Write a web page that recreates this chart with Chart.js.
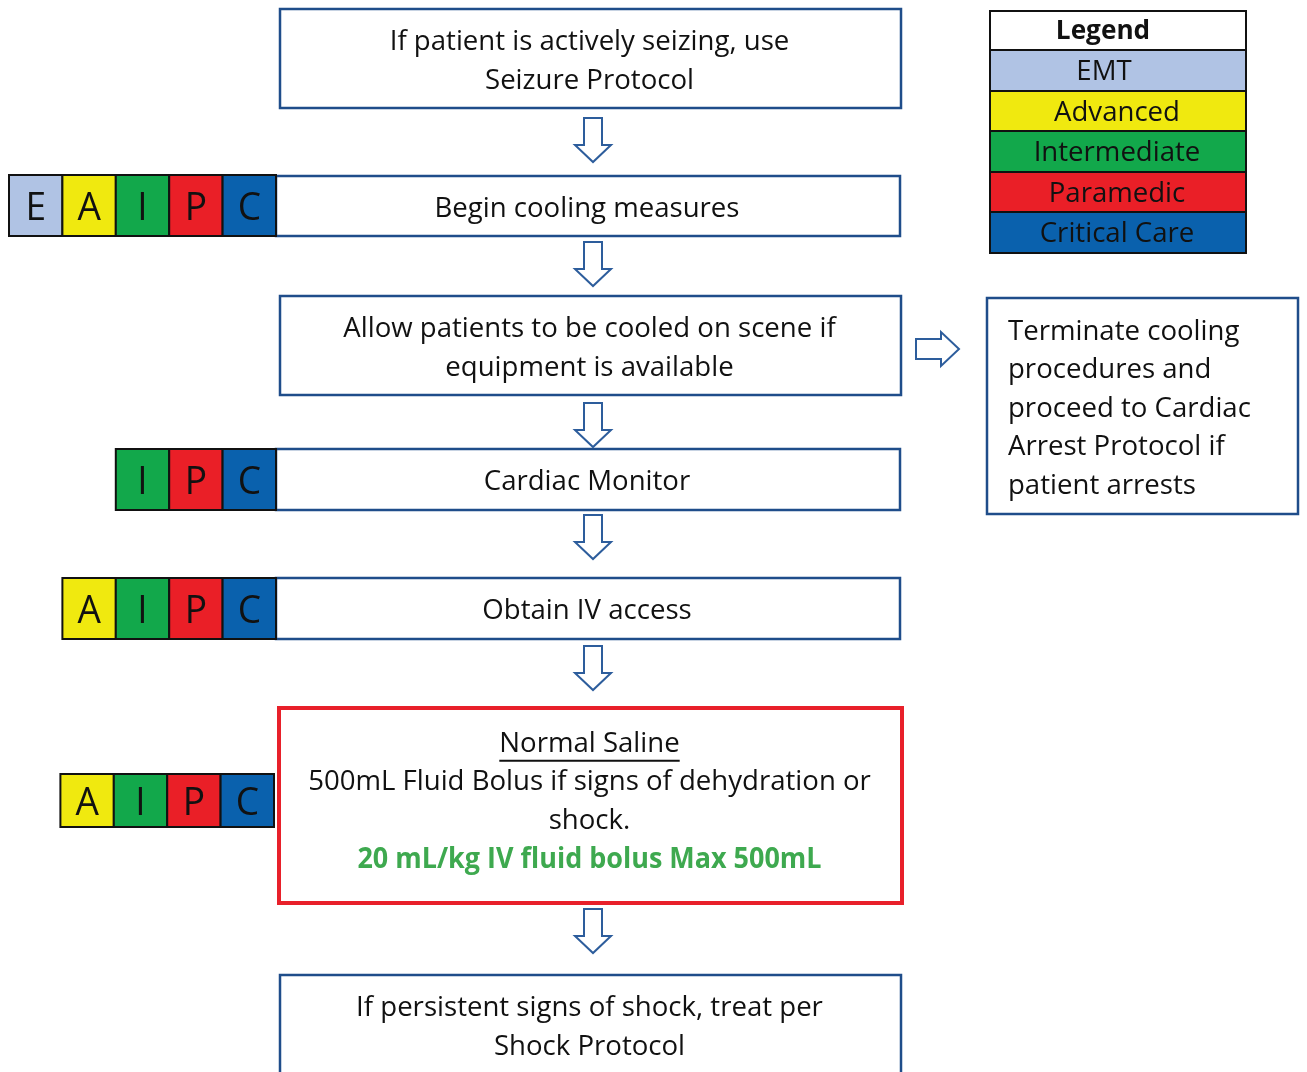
<!DOCTYPE html>
<html>
<head>
<meta charset="utf-8">
<script src="https://cdn.jsdelivr.net/npm/chart.js@4.4.1/dist/chart.umd.min.js"></script>
<style>
  html, body { margin: 0; padding: 0; background: #fff; }
  #wrap { width: 1307px; height: 1072px; position: relative; }
</style>
</head>
<body>
<div id="wrap"><canvas id="flow"></canvas></div>
<script>
// Flowchart content
const stepTexts = [
  ['If patient is actively seizing, use', 'Seizure Protocol'],
  ['Begin cooling measures'],
  ['Allow patients to be cooled on scene if', 'equipment is available'],
  ['Cardiac Monitor'],
  ['Obtain IV access'],
  ['Normal Saline', '500mL Fluid Bolus if signs of dehydration or', 'shock.', '20 mL/kg IV fluid bolus Max 500mL'],
  ['If persistent signs of shock, treat per', 'Shock Protocol']
];
const stepLevels = [[], ['E', 'A', 'I', 'P', 'C'], [], ['I', 'P', 'C'], ['A', 'I', 'P', 'C'], ['A', 'I', 'P', 'C'], []];
const sideNote = ['Terminate cooling', 'procedures and', 'proceed to Cardiac', 'Arrest Protocol if', 'patient arrests'];

const legendTitle = 'Legend';
const legendLabels = ['EMT', 'Advanced', 'Intermediate', 'Paramedic', 'Critical Care'];
const legendCodes = ['E', 'A', 'I', 'P', 'C'];
const legendColors = ['#b0c3e4', '#f0e90f', '#12a84b', '#ea1f27', '#0a61ad'];

// layout in chart units (the canvas is mapped 1:1 by the hidden scales)
const stepTop = [9, 176, 296, 449, 578, 708, 975];
const stepBottom = [108, 236, 395, 510, 639, 903, 1074];
const stepLeft = [280, 276, 280, 276, 276, 279, 280];
const stepRight = [901, 900, 901, 900, 900, 902, 901];
const badgeTop = [0, 175, 0, 449, 578, 774, 0];
const badgeBottom = [0, 236, 0, 510, 639, 827, 0];
const badgeW = 53.4;

const FONT = '"Open Sans", Lato, sans-serif';
const BLUE = '#1f4d8a';
const ARROW = '#2d5d9c';

const flowPlugin = {
  id: 'flow',
  afterDatasetsDraw(chart) {
    const ctx = chart.ctx;
    const sx = chart.scales.x, sy = chart.scales.y;
    const X = v => sx.getPixelForValue(v);
    const Y = v => sy.getPixelForValue(v);

    function text(str, x, y, size, opts = {}) {
      const sq = opts.squeeze || 0.985;
      ctx.save();
      ctx.font = (opts.bold ? 'bold ' : '') + size + 'px ' + FONT;
      ctx.fillStyle = opts.color || '#111';
      ctx.textBaseline = 'middle';
      ctx.textAlign = opts.align || 'center';
      ctx.translate(x, y);
      ctx.scale(sq, 1);
      ctx.fillText(str, 0, 0);
      const w = ctx.measureText(str).width * sq;
      ctx.restore();
      return w;
    }

    function downArrow(cx, top) {
      const x = X(cx), y0 = Y(top);
      ctx.save();
      ctx.beginPath();
      ctx.moveTo(x - 9, y0);
      ctx.lineTo(x + 9, y0);
      ctx.lineTo(x + 9, y0 + 27);
      ctx.lineTo(x + 18, y0 + 27);
      ctx.lineTo(x, y0 + 44);
      ctx.lineTo(x - 18, y0 + 27);
      ctx.lineTo(x - 9, y0 + 27);
      ctx.closePath();
      ctx.fillStyle = '#fff';
      ctx.fill();
      ctx.lineWidth = 2;
      ctx.strokeStyle = ARROW;
      ctx.stroke();
      ctx.restore();
    }

    function rightArrow(left, cy) {
      const x0 = X(left), y = Y(cy);
      ctx.save();
      ctx.beginPath();
      ctx.moveTo(x0, y - 10);
      ctx.lineTo(x0 + 25, y - 10);
      ctx.lineTo(x0 + 25, y - 17);
      ctx.lineTo(x0 + 43, y);
      ctx.lineTo(x0 + 25, y + 17);
      ctx.lineTo(x0 + 25, y + 10);
      ctx.lineTo(x0, y + 10);
      ctx.closePath();
      ctx.fillStyle = '#fff';
      ctx.fill();
      ctx.lineWidth = 2;
      ctx.strokeStyle = ARROW;
      ctx.stroke();
      ctx.restore();
    }

    // steps
    stepTexts.forEach((lines, i) => {
      const l = X(stepLeft[i]), r = X(stepRight[i]);
      const t = Y(stepTop[i]), b = Y(stepBottom[i]);
      const isDrug = i === 5;
      ctx.save();
      ctx.fillStyle = '#fff';
      ctx.fillRect(l, t, r - l, b - t);
      ctx.lineWidth = isDrug ? 4 : 2.5;
      ctx.strokeStyle = isDrug ? '#e8202a' : BLUE;
      ctx.strokeRect(l, t, r - l, b - t);
      ctx.restore();

      const cx = (l + r) / 2 - 1;
      const lh = 38.5;
      const boxMid = isDrug ? (t + b) / 2 - 5 : (t + b) / 2 + 2;
      const y0 = boxMid - (lines.length - 1) * lh / 2;
      lines.forEach((s, k) => {
        const y = y0 + k * lh;
        if (isDrug && k === 3) {
          text(s, cx, y + 2, 28, { bold: true, color: '#3ea94f', squeeze: 0.963 });
        } else {
          const w = text(s, cx, y + 1, 28);
          if (isDrug && k === 0) {
            ctx.save();
            ctx.fillStyle = '#111';
            ctx.fillRect(cx - w / 2, y + 17, w, 2);
            ctx.restore();
          }
        }
      });

      // scope-of-practice badges
      const lv = stepLevels[i];
      if (lv.length) {
        const bt = Y(badgeTop[i]), bb = Y(badgeBottom[i]);
        const bRight = X(stepLeft[i] === 279 ? 274 : stepLeft[i]);
        const bLeft = bRight - lv.length * badgeW;
        lv.forEach((c, k) => {
          const x = bLeft + k * badgeW;
          ctx.save();
          ctx.fillStyle = legendColors[legendCodes.indexOf(c)];
          ctx.fillRect(x, bt, badgeW, bb - bt);
          ctx.lineWidth = 2;
          ctx.strokeStyle = '#111';
          ctx.strokeRect(x, bt, badgeW, bb - bt);
          ctx.restore();
          text(c, x + badgeW / 2, (bt + bb) / 2 + 3, 39, { color: '#111', squeeze: 0.95 });
        });
      }
    });

    // arrows between steps
    [118, 242, 403, 515, 646, 909].forEach(top => downArrow(593, top));
    rightArrow(916, 349);

    // side note box
    ctx.save();
    ctx.fillStyle = '#fff';
    ctx.fillRect(X(987), Y(298), X(1298) - X(987), Y(514) - Y(298));
    ctx.lineWidth = 2.5;
    ctx.strokeStyle = BLUE;
    ctx.strokeRect(X(987), Y(298), X(1298) - X(987), Y(514) - Y(298));
    ctx.restore();
    sideNote.forEach((s, k) => text(s, X(1008), Y(332) + k * 38.5, 28, { align: 'left' }));

    // legend table
    const lgL = X(990), lgR = X(1246);
    const rowsY = [11, 50, 91, 131, 172, 212, 253];
    for (let k = 0; k < 6; k++) {
      const t = Y(rowsY[k]), b = Y(rowsY[k + 1]);
      ctx.save();
      ctx.fillStyle = k === 0 ? '#fff' : legendColors[k - 1];
      ctx.fillRect(lgL, t, lgR - lgL, b - t);
      ctx.lineWidth = 2;
      ctx.strokeStyle = '#111';
      ctx.strokeRect(lgL, t, lgR - lgL, b - t);
      ctx.restore();
      if (k === 0) text(legendTitle, lgL + 113, (t + b) / 2 + 1, 27, { bold: true, squeeze: 0.97 });
      else text(legendLabels[k - 1], lgL + 114 + (k === 1 ? 0 : 13), (t + b) / 2 + 2, 28);
    }
  }
};

new Chart(document.getElementById('flow'), {
  type: 'scatter',
  data: { datasets: [{ data: [], pointRadius: 0 }] },
  options: {
    responsive: true,
    maintainAspectRatio: false,
    animation: false,
    layout: { padding: 0 },
    plugins: { legend: { display: false }, tooltip: { enabled: false } },
    scales: {
      x: { type: 'linear', min: 0, max: 1307, display: false },
      y: { type: 'linear', min: 0, max: 1072, reverse: true, display: false }
    }
  },
  plugins: [flowPlugin]
});
</script>
</body>
</html>
